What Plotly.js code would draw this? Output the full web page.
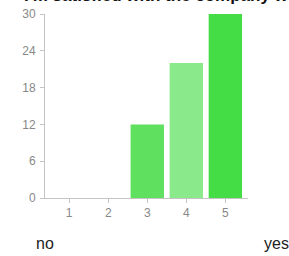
<!DOCTYPE html>
<html>
<head>
<meta charset="utf-8">
<script src="https://cdn.plot.ly/plotly-3.0.1.min.js"></script>
<style>html,body{margin:0;padding:0;background:#fff;overflow:hidden;}#chart{width:289px;height:256px;}</style>
</head>
<body>
<div id="chart"></div>
<script>
var categories = [1, 2, 3, 4, 5];
var counts = [0, 0, 12, 22, 30];
var barColors = ['#5fe15f', '#5fe15f', '#5fe15f', '#8ae98a', '#45dd45'];
var yTicks = [0, 6, 12, 18, 24, 30];
var titleText = "I'm satisfied with the company website";
var lowLabel = 'no';
var highLabel = 'yes';

var trace = {
  type: 'bar',
  x: categories,
  y: counts,
  width: 0.855,
  marker: {color: barColors, line: {width: 0}},
  hoverinfo: 'none'
};

var layout = {
  width: 289,
  height: 256,
  margin: {l: 45, r: 41, t: 14, b: 58, pad: 0},
  paper_bgcolor: '#fff',
  plot_bgcolor: '#fff',
  showlegend: false,
  font: {family: 'Liberation Sans, Arial, sans-serif', color: '#888', size: 12},
  xaxis: {
    range: [0.38, 5.58],
    tickvals: categories,
    ticktext: categories.map(String),
    showgrid: false,
    zeroline: false,
    showline: true,
    linecolor: '#c4c4c4',
    linewidth: 1,
    ticks: 'outside',
    ticklen: 4,
    tickcolor: '#c4c4c4',
    tickfont: {size: 12, color: '#888'},
    fixedrange: true
  },
  yaxis: {
    range: [0, 30],
    tickvals: yTicks,
    showgrid: false,
    zeroline: false,
    showline: true,
    linecolor: '#c4c4c4',
    linewidth: 1,
    ticks: 'outside',
    ticklen: 4,
    tickcolor: '#c4c4c4',
    ticklabelstandoff: 2,
    tickfont: {size: 12, color: '#888'},
    fixedrange: true
  },
  annotations: [
    {text: '<b>' + titleText + '</b>', xref: 'paper', yref: 'paper', x: (22 - 45) / 203, y: 1 + 18.3 / 184,
     xanchor: 'left', yanchor: 'middle', showarrow: false, font: {size: 17, color: '#111'}},
    {text: lowLabel, xref: 'paper', yref: 'paper', x: 0, y: -(243 - 198) / 184,
     xanchor: 'center', yanchor: 'middle', showarrow: false, font: {size: 16, color: '#222'}},
    {text: highLabel, xref: 'paper', yref: 'paper', x: (262 - 45) / 203, y: -(243 - 198) / 184,
     xanchor: 'left', yanchor: 'middle', showarrow: false, font: {size: 16, color: '#222'}}
  ]
};

Plotly.newPlot('chart', [trace], layout, {displayModeBar: false, staticPlot: true});
</script>
</body>
</html>
